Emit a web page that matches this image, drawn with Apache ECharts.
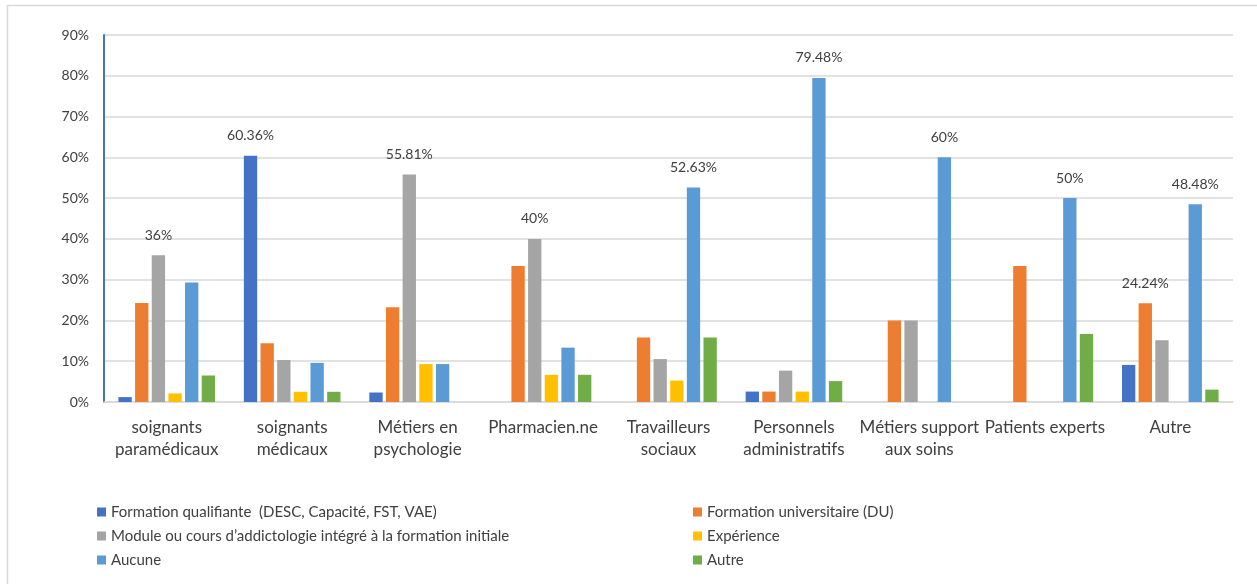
<!DOCTYPE html>
<html>
<head>
<meta charset="utf-8">
<script src="https://cdn.jsdelivr.net/npm/echarts@6/dist/echarts.min.js"></script>
<style>
  html, body { margin: 0; padding: 0; background: #fff; }
  #chart { width: 1257px; height: 584px; }
</style>
</head>
<body>
<div id="chart"></div>
<script>
// Professions (x-axis categories)
const categories = [
  'soignants\nparamédicaux',
  'soignants\nmédicaux',
  'Métiers en\npsychologie',
  'Pharmacien.ne',
  'Travailleurs\nsociaux',
  'Personnels\nadministratifs',
  'Métiers support\naux soins',
  'Patients experts',
  'Autre'
];

// Share of each training type per profession, in %
const formationQualifiante = [1.2, 60.36, 2.33, 0, 0, 2.56, 0, 0, 9.09];
const formationUniversitaire = [24.3, 14.41, 23.26, 33.33, 15.79, 2.56, 20, 33.33, 24.24];
const moduleInitial = [36, 10.3, 55.81, 40, 10.53, 7.69, 20, 0, 15.15];
const experience = [2.1, 2.5, 9.3, 6.67, 5.26, 2.56, 0, 0, 0];
const aucune = [29.3, 9.6, 9.3, 13.33, 52.63, 79.48, 60, 50, 48.48];
const autre = [6.5, 2.5, 0, 6.67, 15.79, 5.13, 0, 16.67, 3.03];

// Which bars carry a value label (category indexes per series)
const labelled = {
  formationQualifiante: [1],
  formationUniversitaire: [8],
  moduleInitial: [0, 2, 3],
  experience: [],
  aucune: [4, 5, 6, 7, 8],
  autre: []
};

const yTicks = { min: 0, max: 90, interval: 10 };

const seriesDefs = [
  { key: 'formationQualifiante', name: 'Formation qualifiante  (DESC, Capacité, FST, VAE)', data: formationQualifiante, color: '#4472C4' },
  { key: 'formationUniversitaire', name: 'Formation universitaire (DU)', data: formationUniversitaire, color: '#ED7D31' },
  { key: 'moduleInitial', name: 'Module ou cours d\u2019addictologie intégré à la formation initiale', data: moduleInitial, color: '#A5A5A5' },
  { key: 'experience', name: 'Expérience', data: experience, color: '#FFC000' },
  { key: 'aucune', name: 'Aucune', data: aucune, color: '#5B9BD5' },
  { key: 'autre', name: 'Autre', data: autre, color: '#70AD47' }
];

const FONT = 'Lato, "Open Sans", sans-serif';
const TXT = '#404040';

const series = seriesDefs.map(s => ({
  name: s.name,
  type: 'bar',
  barGap: '25%',
  barCategoryGap: '23%',
  itemStyle: { color: s.color },
  emphasis: { disabled: true },
  label: {
    show: false,
    position: 'top',
    distance: 13,
    fontFamily: FONT,
    fontSize: 14,
    color: TXT,
    formatter: p => p.value + '%'
  },
  data: s.data.map((v, i) => labelled[s.key].includes(i)
    ? { value: v, label: { show: true } }
    : v)
}));

const legendCommon = {
  orient: 'vertical',
  top: 503,
  padding: 0,
  itemWidth: 9,
  itemHeight: 9,
  itemGap: 6,
  icon: 'rect',
  selectedMode: false,
  textStyle: { fontFamily: FONT, fontSize: 15, color: TXT, lineHeight: 18 }
};

const chart = echarts.init(document.getElementById('chart'), null, { renderer: 'canvas' });

chart.setOption({
  animation: false,
  backgroundColor: '#fff',
  color: seriesDefs.map(s => s.color),
  textStyle: { fontFamily: FONT },
  grid: { left: 104, right: 24, top: 35, bottom: 182, containLabel: false },
  graphic: [{
    type: 'rect',
    shape: { x: 7.5, y: 5.5, width: 1400, height: 800 },
    style: { fill: 'none', stroke: '#d9d9d9', lineWidth: 1.5 },
    silent: true,
    z: -1
  }],
  legend: [
    Object.assign({}, legendCommon, {
      left: 97,
      data: [seriesDefs[0].name, seriesDefs[2].name, seriesDefs[4].name]
    }),
    Object.assign({}, legendCommon, {
      left: 693,
      data: [seriesDefs[1].name, seriesDefs[3].name, seriesDefs[5].name]
    })
  ],
  xAxis: {
    type: 'category',
    data: categories,
    axisLine: { lineStyle: { color: '#d9d9d9', width: 1.5 } },
    axisTick: { show: false },
    axisLabel: {
      interval: 0,
      margin: 15,
      fontFamily: FONT,
      fontSize: 17,
      lineHeight: 22,
      color: TXT
    }
  },
  yAxis: {
    type: 'value',
    min: yTicks.min,
    max: yTicks.max,
    interval: yTicks.interval,
    axisLine: { show: true, lineStyle: { color: '#4472C4', width: 2 } },
    axisTick: { show: false },
    splitLine: { lineStyle: { color: '#d9d9d9', width: 1.5 } },
    axisLabel: {
      formatter: '{value}%',
      margin: 15,
      fontFamily: FONT,
      fontSize: 14,
      color: TXT
    }
  },
  series: series
});
</script>
</body>
</html>
